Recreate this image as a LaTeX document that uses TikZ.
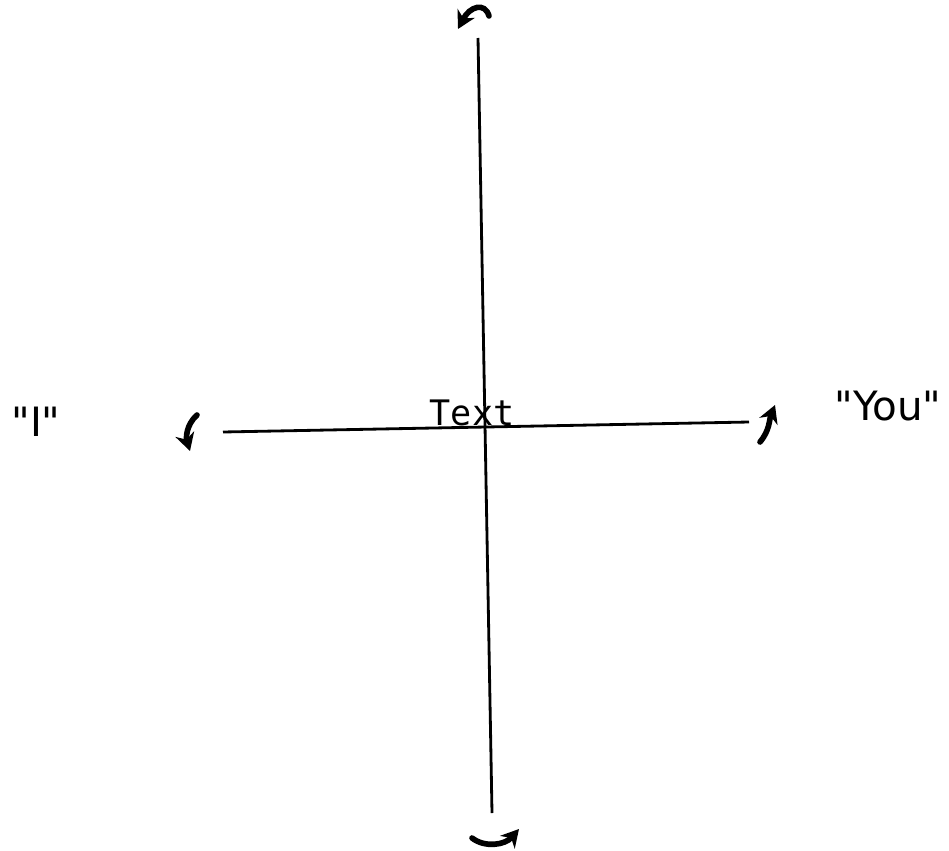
\documentclass[tikz,border=0pt]{standalone}
\usepackage{fontspec}
\setmainfont{DejaVu Sans Mono}
\newfontfamily\polefont{DejaVu Sans}
\usepackage{tikz}
\usetikzlibrary{arrows.meta, positioning}

\begin{document}
\begin{tikzpicture}[x=0.02cm, y=-0.02cm, >=Stealth,
    axis/.style={line width=1.6pt, black},
    hook/.style={line width=3.2pt, black, line cap=round, -{Stealth[length=10pt, width=11pt]}},
    pole/.style={font=\polefont\fontsize{23}{27}\selectfont, inner sep=0pt},
    axislabel/.style={font=\fontsize{20}{24}\selectfont, inner sep=1pt}]

    \useasboundingbox (0,0) rectangle (949,851);

    % Axis ends
    \coordinate (top) at (478,38);
    \coordinate (bottom) at (492,813);
    \coordinate (left) at (223,432);
    \coordinate (right) at (749,422);

    % Axes
    \draw[axis] (top) -- (bottom);
    \draw[axis] (left) -- (right);

    % Nodes
    \node[axislabel, anchor=south] (text) at (472,428) {Text};
    \node[pole] (me) at (36,422) {\symbol{34}I\symbol{34}};
    \node[pole] (you) at (888,406) {\symbol{34}You\symbol{34}};

    % Hooks
    \draw[hook] (489,16) .. controls (485,2) and (470,6) .. (458,29);
    \draw[hook] (472,838) .. controls (485,848) and (505,845) .. (519,829);
    \draw[hook] (197,415) .. controls (186,425) and (186,438) .. (190,451);
    \draw[hook] (760,442) .. controls (770,430) and (769,420) .. (775,405);
\end{tikzpicture}
\end{document}
